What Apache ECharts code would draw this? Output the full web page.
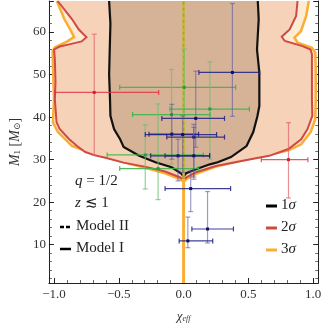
<!DOCTYPE html>
<html><head><meta charset="utf-8">
<script src="https://cdn.jsdelivr.net/npm/echarts@6/dist/echarts.min.js"></script>
<style>html,body{margin:0;padding:0;background:#fff}#c{width:324px;height:328px}</style>
</head><body><div id="c"></div>
<script>
// ---- tick labels ----
const xTickValues = [-1, -0.5, 0, 0.5, 1];
const xTickLabels = ['\u22121.0', '\u22120.5', '0.0', '0.5', '1.0'];
const yTickValues = [10, 20, 30, 40, 50, 60];
const xRange = [-1.04, 1.04];
const yRange = [1, 67.3];

// ---- contours [chi_eff, M1] ----
const sigma3 = [[-0.979,67.3],[-0.92,63.0],[-0.868,60.2],[-0.846,58.8],[-0.898,57.8],[-0.994,56.4],[-1.011,55.5],[-1.009,52.0],[-1.001,44.2],[-1.009,38.8],[-0.971,36.5],[-0.86,33.2],[-0.713,31.6],[-0.587,30.5],[-0.439,29.2],[-0.291,28.0],[-0.143,26.8],[-0.025,25.4],[0,24.8],[0.025,25.5],[0.101,26.7],[0.249,28.4],[0.486,30.0],[0.671,31.2],[0.81,32.2],[0.908,33.6],[0.982,36.5],[1.017,39.5],[1.02,44.2],[1.02,51.2],[1.017,55.2],[0.991,56.3],[0.881,57.5],[0.856,58.7],[0.906,60.2],[0.947,63.8],[0.967,67.3]];
const sigma2 = [[-0.972,67.3],[-0.861,63.0],[-0.809,60.6],[-0.75,58.8],[-0.787,57.8],[-0.883,57.1],[-0.957,56.6],[-1.0,55.9],[-0.994,53.6],[-0.989,48.2],[-0.994,44.2],[-0.981,38.8],[-0.957,37.2],[-0.883,34.8],[-0.823,33.2],[-0.759,31.8],[-0.685,31.0],[-0.611,30.5],[-0.463,29.3],[-0.291,28.3],[-0.143,27.2],[-0.025,25.8],[0,25.3],[0.025,25.9],[0.101,27.1],[0.249,28.5],[0.486,29.9],[0.661,30.9],[0.81,32.5],[0.908,34.8],[0.957,37.2],[0.994,40.3],[0.991,44.2],[0.991,54.8],[0.98,55.9],[0.918,56.7],[0.782,57.9],[0.758,58.9],[0.819,60.6],[0.869,63.8],[0.88,67.3]];
const sigma1 = [[-0.575,67.3],[-0.565,62.0],[-0.57,56.0],[-0.575,50.0],[-0.568,44.0],[-0.565,40.3],[-0.537,37.2],[-0.49,34.8],[-0.463,33.0],[-0.343,30.9],[-0.217,29.4],[-0.093,28.2],[-0.02,26.8],[0,26.1],[0.02,26.8],[0.101,27.8],[0.203,28.9],[0.264,29.4],[0.366,30.6],[0.486,33.2],[0.538,36.5],[0.57,40.2],[0.585,42.6],[0.585,50.5],[0.567,55.9],[0.58,63.0],[0.573,67.3]];

// ---- model II degenerate contour along chi_eff = 0 ----
const zeroLower = [[0,1],[0,25.5]];
const zeroUpper = [[0,25.5],[0,67.3]];

// ---- events: [x, xlo, xhi, y, ylo, yhi] ----
const redEvents = [
  [-0.69,-0.994,-0.192,45.8,31.1,59.5],
  [0.81,0.60,0.96,30.0,21.0,38.7]
];
const greenEvents = [
  [0.005,-0.493,0.402,47.0,40.5,56.0],
  [0.203,-0.106,0.508,41.9,30.1,53.0],
  [-0.093,-0.394,0.205,40.6,29.0,51.2],
  [-0.296,-0.59,0.153,31.1,23.1,38.2],
  [-0.197,-0.493,0.116,27.9,20.6,43.1]
];
const navyEvents = [
  [0.377,0.118,0.587,50.5,40.2,66.7],
  [0.055,-0.143,0.363,23.2,17.8,27.3],
  [0.185,0.064,0.385,13.7,10.4,22.5],
  [0.033,-0.034,0.225,10.9,9.3,16.5],
  [0.094,-0.168,0.316,39.7,32.9,50.8],
  [-0.091,-0.267,0.116,36.0,30.1,43.0],
  [-0.007,-0.296,0.255,35.9,27.0,40.3],
  [0.079,-0.13,0.316,35.3,25.4,38.3],
  [-0.043,-0.254,0.201,30.9,25.0,34.8],
  [0.079,-0.143,0.201,30.9,25.9,37.6]
];

const chart = echarts.init(document.getElementById('c'), null, {renderer:'canvas'});
const serif = '"Liberation Serif","DejaVu Serif",serif';

function contourSeries(pts, fill, stroke, lw){
  return {
    type:'custom', coordinateSystem:'cartesian2d', silent:true, z:1,
    data:[[pts[0][0], pts[0][1]]],
    renderItem:function(params, api){
      const p = pts.map(d => api.coord(d));
      return {type:'group', children:[
        {type:'polygon', shape:{points:p}, style:{fill:fill, stroke:null}},
        {type:'polyline', shape:{points:p}, style:{fill:null, stroke:stroke, lineWidth:lw}}
      ]};
    }
  };
}

function barSeries(rows, hCol, vCol, dotCol, hOp, vOp){
  return {
    type:'custom', coordinateSystem:'cartesian2d', silent:true, z:5,
    data: rows,
    encode:{x:[0,1,2], y:[3,4,5]},
    renderItem:function(params, api){
      const x=api.value(0), xl=api.value(1), xh=api.value(2);
      const y=api.value(3), yl=api.value(4), yh=api.value(5);
      const c=api.coord([x,y]), l=api.coord([xl,y]), r=api.coord([xh,y]);
      const b=api.coord([x,yl]), t=api.coord([x,yh]);
      const cap=2.5;
      const vs={stroke:vCol, lineWidth:1.2, opacity:vOp};
      const hs={stroke:hCol, lineWidth:1.2, opacity:hOp};
      return {type:'group', children:[
        {type:'line', shape:{x1:b[0],y1:b[1],x2:t[0],y2:t[1]}, style:vs},
        {type:'line', shape:{x1:b[0]-cap,y1:b[1],x2:b[0]+cap,y2:b[1]}, style:vs},
        {type:'line', shape:{x1:t[0]-cap,y1:t[1],x2:t[0]+cap,y2:t[1]}, style:vs},
        {type:'line', shape:{x1:l[0],y1:l[1],x2:r[0],y2:r[1]}, style:hs},
        {type:'line', shape:{x1:l[0],y1:l[1]-cap,x2:l[0],y2:l[1]+cap}, style:hs},
        {type:'line', shape:{x1:r[0],y1:r[1]-cap,x2:r[0],y2:r[1]+cap}, style:hs},
        {type:'rect', shape:{x:c[0]-1.5,y:c[1]-1.5,width:3,height:3}, style:{fill:dotCol}}
      ]};
    }
  };
}

const axisLineStyle = {color:'#222', width:1};
const option = {
  animation:false,
  backgroundColor:'#fff',
  grid:{left:38, right:4, top:1, bottom:44, containLabel:false},
  xAxis:[{
    type:'value', min:xRange[0], max:xRange[1], splitNumber:5,
    axisLine:{show:true, onZero:false, lineStyle:axisLineStyle},
    axisTick:{show:true, inside:true, length:5, lineStyle:axisLineStyle},
    minorTick:{show:true, splitNumber:5, length:3, lineStyle:{color:'#444', width:0.8}},
    splitLine:{show:false},
    axisLabel:{margin:5, color:'#333', fontFamily:serif, fontSize:13,
      showMinLabel:true, showMaxLabel:true,
      formatter:function(v){ for(let i=0;i<xTickValues.length;i++){ if(Math.abs(v-xTickValues[i])<1e-6) return xTickLabels[i]; } return ''; }},
    name:'{i|\u03c7}{s|eff}', nameLocation:'middle', nameGap:27,
    nameTextStyle:{rich:{
      i:{fontFamily:serif, fontStyle:'italic', fontSize:13, color:'#333'},
      s:{fontFamily:serif, fontStyle:'italic', fontSize:8, color:'#333', verticalAlign:'bottom', padding:[5,0,0,0]}
    }}
  }],
  yAxis:[{
    type:'value', min:yRange[0], max:yRange[1], splitNumber:6, position:'left',
    axisLine:{show:true, onZero:false, lineStyle:axisLineStyle},
    axisTick:{show:true, inside:true, length:5, lineStyle:axisLineStyle},
    minorTick:{show:true, splitNumber:5, length:3, lineStyle:{color:'#444', width:0.8}},
    splitLine:{show:false},
    axisLabel:{margin:3, color:'#333', fontFamily:serif, fontSize:13,
      formatter:function(v){ return yTickValues.indexOf(Math.round(v*1000)/1000)>=0 ? String(v) : ''; }},
    name:'{i|M}{s|1} [{i|M}{s|\u2299}]', nameLocation:'middle', nameGap:18, nameRotate:90,
    nameTextStyle:{rich:{
      i:{fontFamily:serif, fontStyle:'italic', fontSize:14, color:'#333'},
      s:{fontFamily:serif, fontSize:9, color:'#333', verticalAlign:'bottom', padding:[5,0,0,0]}
    }, fontFamily:serif, fontSize:14, color:'#333'}
  },{
    type:'value', min:yRange[0], max:yRange[1], splitNumber:6, position:'right',
    axisLine:{show:true, onZero:false, lineStyle:axisLineStyle},
    axisTick:{show:true, inside:true, length:5, lineStyle:axisLineStyle},
    minorTick:{show:true, splitNumber:5, length:3, lineStyle:{color:'#444', width:0.8}},
    splitLine:{show:false}, axisLabel:{show:false}
  }],
  series:[
    contourSeries(sigma3, '#fdebd4', '#fbae35', 2.5),
    contourSeries(sigma2, '#f6d3b8', '#cf4a43', 2),
    contourSeries(sigma1, '#d6b296', '#111', 2.2),
    {type:'line', data:zeroLower, showSymbol:false, silent:true, z:3,
     lineStyle:{color:'#fbae35', width:3}},
    {type:'line', data:zeroUpper, showSymbol:false, silent:true, z:3,
     lineStyle:{color:'#cdb63a', width:2.5}},
    {type:'line', data:zeroUpper, showSymbol:false, silent:true, z:3,
     lineStyle:{color:'#98ac30', width:1.5, type:[3,3]}},
    barSeries(redEvents, '#e0303e', '#e0606a', '#d0202c', 0.8, 0.7),
    barSeries(greenEvents, '#3cb54a', '#6cc072', '#2a9a3a', 0.9, 0.75),
    barSeries(navyEvents, '#1e1e82', '#5a5aa6', '#10106a', 0.85, 0.6)
  ],
  graphic:[
    {type:'text', left:75, top:174, style:{text:'{i|q} = 1/2', rich:{i:{fontFamily:serif,fontStyle:'italic',fontSize:15,fill:'#222'}}, font:'15px '+serif, fill:'#222'}},
    {type:'text', left:75, top:196, style:{text:'{i|z} \u2272 1', rich:{i:{fontFamily:serif,fontStyle:'italic',fontSize:15,fill:'#222'}}, font:'15px '+serif, fill:'#222'}},
    {type:'line', shape:{x1:60,y1:227,x2:64,y2:227}, style:{stroke:'#000', lineWidth:2.5}},
    {type:'line', shape:{x1:66,y1:227,x2:70,y2:227}, style:{stroke:'#000', lineWidth:2.5}},
    {type:'text', left:76, top:219, style:{text:'Model II', font:'15px '+serif, fill:'#222'}},
    {type:'line', shape:{x1:60,y1:249,x2:71,y2:249}, style:{stroke:'#000', lineWidth:2.5}},
    {type:'text', left:76, top:241, style:{text:'Model I', font:'15px '+serif, fill:'#222'}},
    {type:'line', shape:{x1:266,y1:206,x2:277,y2:206}, style:{stroke:'#000', lineWidth:3}},
    {type:'text', left:281, top:198, style:{text:'1{i|\u03c3}', rich:{i:{fontFamily:serif,fontStyle:'italic',fontSize:15,fill:'#222'}}, font:'15px '+serif, fill:'#222'}},
    {type:'line', shape:{x1:266,y1:228,x2:277,y2:228}, style:{stroke:'#cf4a43', lineWidth:3}},
    {type:'text', left:281, top:220, style:{text:'2{i|\u03c3}', rich:{i:{fontFamily:serif,fontStyle:'italic',fontSize:15,fill:'#222'}}, font:'15px '+serif, fill:'#222'}},
    {type:'line', shape:{x1:266,y1:250,x2:277,y2:250}, style:{stroke:'#fbae35', lineWidth:3}},
    {type:'text', left:281, top:242, style:{text:'3{i|\u03c3}', rich:{i:{fontFamily:serif,fontStyle:'italic',fontSize:15,fill:'#222'}}, font:'15px '+serif, fill:'#222'}}
  ]
};
chart.setOption(option);
</script></body></html>
